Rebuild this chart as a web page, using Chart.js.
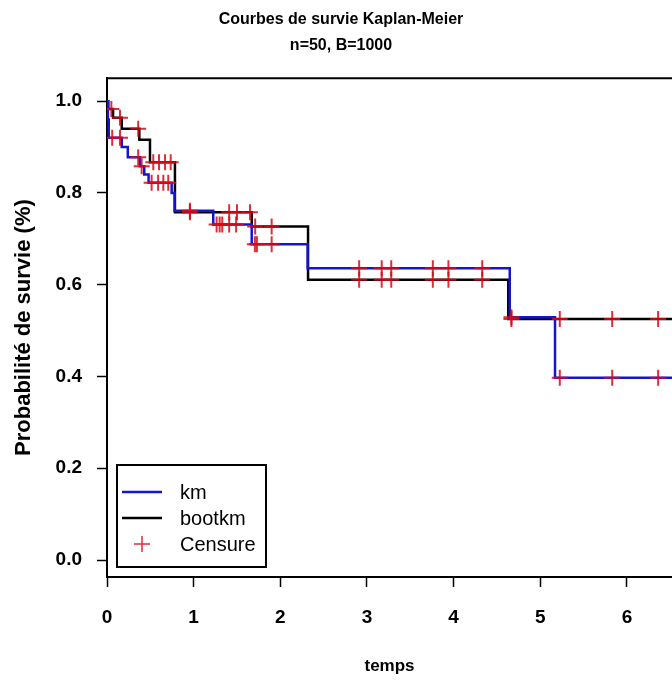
<!DOCTYPE html>
<html>
<head>
<meta charset="utf-8">
<script src="https://cdn.jsdelivr.net/npm/chart.js@4"></script>
<style>
  html, body { margin: 0; padding: 0; background: #fff; overflow: hidden; width: 672px; height: 684px; }
  #wrap { width: 682px; height: 684px; }
</style>
</head>
<body>
<div id="wrap"><canvas id="km"></canvas></div>
<script>
// courbe km (pas de la fonction de survie)
const kmTimes = [0, 0.01, 0.02, 0.17, 0.24, 0.38, 0.43, 0.48, 0.746, 0.78, 1.226, 1.67, 2.315, 4.648, 5.17];
const kmSurv  = [1.0, 0.96, 0.92, 0.90, 0.878, 0.858, 0.84, 0.822, 0.80, 0.761, 0.731, 0.688, 0.636, 0.529, 0.397];

// courbe bootkm
const bootTimes = [0, 0.015, 0.07, 0.17, 0.373, 0.496, 0.784, 1.67, 2.32, 4.63];
const bootSurv  = [1.0, 0.983, 0.964, 0.94, 0.916, 0.867, 0.758, 0.727, 0.611, 0.525];

// observations censurees (sur km puis sur bootkm)
const censKmTimes = [0.06, 0.15, 0.36, 0.40, 0.515, 0.59, 0.65, 0.707, 0.957, 1.265, 1.30, 1.33, 1.41, 1.49, 1.707, 1.73, 1.90,
                     2.91, 3.17, 3.28, 3.76, 3.94, 4.33, 4.667, 5.225, 5.83, 6.36];
const censKmSurv  = [0.92, 0.92, 0.878, 0.858, 0.822, 0.822, 0.822, 0.822, 0.761, 0.731, 0.731, 0.731, 0.731, 0.731, 0.688, 0.688, 0.688,
                     0.636, 0.636, 0.636, 0.636, 0.636, 0.636, 0.529, 0.397, 0.397, 0.397];
const censBootTimes = [0.05, 0.15, 0.36, 0.534, 0.60, 0.67, 0.735, 0.957, 1.41, 1.50, 1.65, 1.71, 1.90,
                       2.91, 3.17, 3.28, 3.76, 3.94, 4.33, 4.667, 5.225, 5.83, 6.36];
const censBootSurv  = [0.983, 0.964, 0.94, 0.867, 0.867, 0.867, 0.867, 0.758, 0.758, 0.758, 0.758, 0.727, 0.727,
                       0.611, 0.611, 0.611, 0.611, 0.611, 0.611, 0.525, 0.525, 0.525, 0.525];

const xTicks = [0, 1, 2, 3, 4, 5, 6];
const yTicks = [0, 0.2, 0.4, 0.6, 0.8, 1.0];
const xMax = 6.52;

function stepPoints(times, surv) {
    const pts = times.map((t, i) => ({ x: t, y: surv[i] }));
    pts.push({ x: xMax, y: surv[surv.length - 1] });
    return pts;
}
const censPoints = censKmTimes.map((t, i) => ({ x: t, y: censKmSurv[i] }))
    .concat(censBootTimes.map((t, i) => ({ x: t, y: censBootSurv[i] })));

// cadre du haut + legende dans la zone du graphe, facon R
const boxAndLegend = {
    id: 'boxAndLegend',
    afterDraw(chart) {
        const { ctx, chartArea: a } = chart;
        ctx.save();
        ctx.strokeStyle = '#000';
        ctx.lineWidth = 2;
        ctx.beginPath();
        ctx.moveTo(a.left, a.top);
        ctx.lineTo(a.right, a.top);
        ctx.stroke();

        const bx = a.left + 10, by = a.bottom - 112, bw = 149, bh = 102;
        ctx.fillStyle = '#fff';
        ctx.fillRect(bx, by, bw, bh);
        ctx.strokeRect(bx, by, bw, bh);
        ctx.font = '20px "Liberation Sans", Arial, sans-serif';
        ctx.textBaseline = 'middle';
        chart.data.datasets.forEach((ds, i) => {
            const y = by + 27 + i * 26;
            ctx.strokeStyle = ds.borderColor;
            ctx.lineWidth = 2.5;
            ctx.beginPath();
            if (ds.showLine === false) {
                ctx.moveTo(bx + 25 - 8, y); ctx.lineTo(bx + 25 + 8, y);
                ctx.moveTo(bx + 25, y - 8); ctx.lineTo(bx + 25, y + 8);
                ctx.lineWidth = 1.5;
            } else {
                ctx.moveTo(bx + 5, y); ctx.lineTo(bx + 45, y);
            }
            ctx.stroke();
            ctx.fillStyle = '#000';
            ctx.fillText(ds.label, bx + 63, y + 1);
        });
        ctx.restore();
    }
};

const ctx = document.getElementById('km').getContext('2d');
new Chart(ctx, {
    type: 'scatter',
    data: {
        datasets: [
            {
                label: 'km',
                data: stepPoints(kmTimes, kmSurv),
                showLine: true,
                stepped: true,
                borderColor: '#1515d0',
                borderWidth: 2.5,
                pointRadius: 0,
                order: 1
            },
            {
                label: 'bootkm',
                data: stepPoints(bootTimes, bootSurv),
                showLine: true,
                stepped: true,
                borderColor: '#000000',
                borderWidth: 2.5,
                pointRadius: 0,
                order: 2
            },
            {
                label: 'Censure',
                data: censPoints,
                showLine: false,
                pointStyle: 'cross',
                pointRadius: 8,
                pointBorderWidth: 2,
                borderColor: 'rgba(215, 10, 25, 0.85)',
                backgroundColor: 'rgba(215, 10, 25, 0.85)',
                order: 0
            }
        ]
    },
    options: {
        responsive: true,
        maintainAspectRatio: false,
        animation: false,
        layout: { padding: 0 },
        plugins: {
            legend: { display: false },
            tooltip: { enabled: false },
            title: {
                display: true,
                text: ['Courbes de survie Kaplan-Meier', 'n=50, B=1000'],
                color: '#000',
                font: { family: '"Liberation Sans", Arial, sans-serif', size: 16, weight: 'bold', lineHeight: 1.6 },
                padding: { top: 7, bottom: 20 }
            }
        },
        scales: {
            x: {
                type: 'linear',
                min: 0,
                max: xMax,
                afterBuildTicks: s => { s.ticks = xTicks.map(v => ({ value: v })); },
                afterFit: s => { s.height = 107; },
                ticks: {
                    color: '#000',
                    padding: 19,
                    font: { family: '"Liberation Sans", Arial, sans-serif', size: 19, weight: 'bold' }
                },
                grid: { drawOnChartArea: false, drawTicks: true, tickLength: 10, tickColor: '#000', tickWidth: 1.5 },
                border: { display: true, color: '#000', width: 2 },
                title: {
                    display: true,
                    text: 'temps',
                    color: '#000',
                    font: { family: '"Liberation Sans", Arial, sans-serif', size: 17, weight: 'bold' },
                    padding: { top: 0, bottom: 7 }
                }
            },
            y: {
                min: -0.037,
                max: 1.05,
                afterBuildTicks: s => { s.ticks = yTicks.map(v => ({ value: v })); },
                afterFit: s => { s.width = 107; },
                ticks: {
                    color: '#000',
                    padding: 15,
                    callback: v => v.toFixed(1),
                    font: { family: '"Liberation Sans", Arial, sans-serif', size: 19, weight: 'bold' }
                },
                grid: { drawOnChartArea: false, drawTicks: true, tickLength: 10, tickColor: '#000', tickWidth: 1.5 },
                border: { display: true, color: '#000', width: 2 },
                title: {
                    display: true,
                    text: 'Probabilité de survie (%)',
                    color: '#000',
                    font: { family: '"Liberation Sans", Arial, sans-serif', size: 22, weight: 'bold' },
                    padding: { top: 11, bottom: 0 }
                }
            }
        }
    },
    plugins: [boxAndLegend]
});
</script>
</body>
</html>
